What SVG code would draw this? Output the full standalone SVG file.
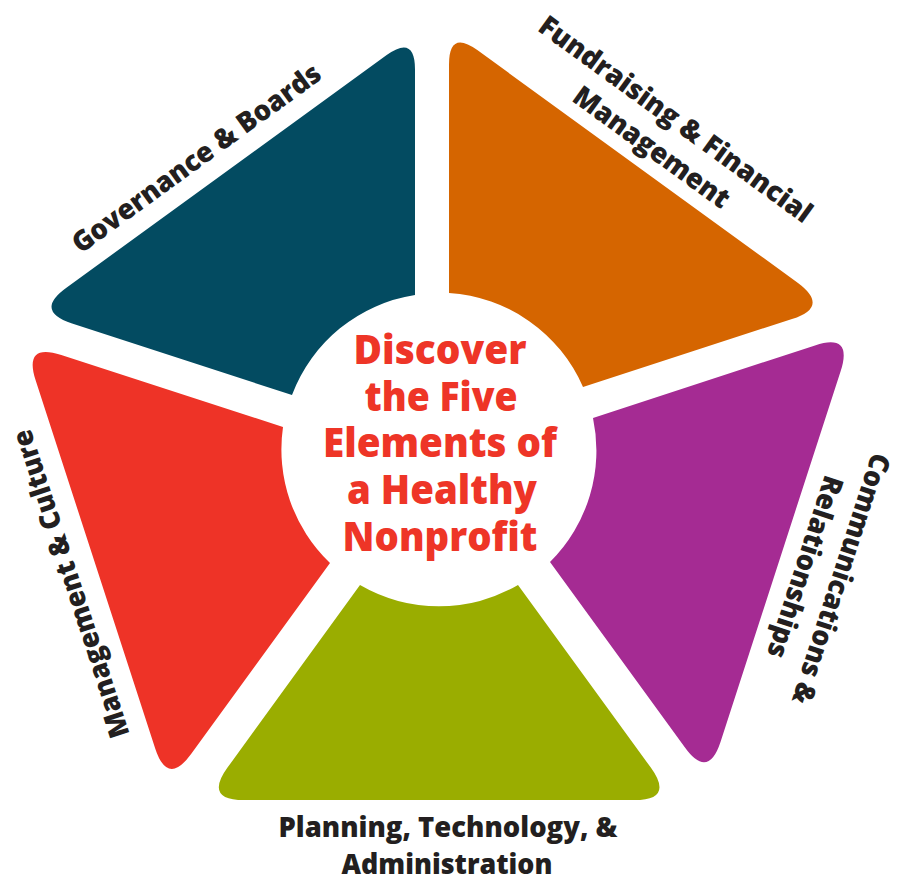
<svg xmlns="http://www.w3.org/2000/svg" width="897" height="880" viewBox="0 0 897 880">
  <style>
    .lbl { font-family: "Open Sans", "Noto Sans", "Liberation Sans", sans-serif; font-weight: 800; font-size: 28px; fill: #231f20; text-anchor: middle; }
    .ctr { font-family: "Open Sans", "Noto Sans", "Liberation Sans", sans-serif; font-weight: 800; font-size: 40px; fill: #ee3527; text-anchor: middle; }
  </style>
  <rect width="897" height="880" fill="#ffffff"/>

  <g id="governance">
    <path fill="#034b61" d="M 415,295 L 415,69.5 Q 415,34.5 386.7,55.1 L 66.4,287.7 Q 34,311 72.1,323.6 L 292,395 A 157,157 0 0 1 415,295 Z"/>
    <text class="lbl" transform="translate(202,166) rotate(-36)" textLength="300" lengthAdjust="spacingAndGlyphs">Governance &amp; Boards</text>
  </g>

  <g id="fundraising">
    <path fill="#d56500" d="M 449,293 L 449,64.5 Q 449,29.5 477.3,50.1 L 798,283 Q 830,307 792,319 L 583,387 A 157,157 0 0 0 449,293 Z"/>
    <text class="lbl" transform="translate(670,127) rotate(36)" textLength="330" lengthAdjust="spacingAndGlyphs">Fundraising &amp; Financial</text>
    <text class="lbl" transform="translate(646,155) rotate(36)" textLength="186" lengthAdjust="spacingAndGlyphs">Management</text>
  </g>

  <g id="communications">
    <path fill="#a52b93" d="M 593,418 L 815,345.4 Q 853,333 840.7,371 L 720.5,742 Q 708,780 684.6,747.1 L 550,562 A 157,157 0 0 0 593,418 Z"/>
    <text class="lbl" transform="translate(832,576) rotate(108)" textLength="262" lengthAdjust="spacingAndGlyphs">Communications &amp;</text>
    <text class="lbl" transform="translate(796,564) rotate(108)" textLength="190" lengthAdjust="spacingAndGlyphs">Relationships</text>
  </g>

  <g id="planning">
    <path fill="#9aad00" d="M 360,585 A 157,157 0 0 0 518,585 L 650.8,767.6 Q 674.3,800 634.3,800 L 244,800 Q 204,800 227.5,767.6 Z"/>
    <text class="lbl" x="448" y="837" textLength="339" lengthAdjust="spacingAndGlyphs">Planning, Technology, &amp;</text>
    <text class="lbl" x="447" y="874" textLength="211" lengthAdjust="spacingAndGlyphs">Administration</text>
  </g>

  <g id="management">
    <path fill="#ee3327" d="M 283,427 L 61.3,355 Q 23.3,342.6 35.7,380.6 L 155.2,748.4 Q 167.6,786.4 191.1,754 L 330,563 A 157,157 0 0 1 283,427 Z"/>
    <text class="lbl" transform="translate(80,581) rotate(-108)" textLength="322" lengthAdjust="spacingAndGlyphs">Management &amp; Culture</text>
  </g>

  <g id="center">
    <text class="ctr" x="440" y="364" textLength="173" lengthAdjust="spacingAndGlyphs">Discover</text>
    <text class="ctr" x="441" y="411" textLength="153" lengthAdjust="spacingAndGlyphs">the Five</text>
    <text class="ctr" x="440" y="457" textLength="234" lengthAdjust="spacingAndGlyphs">Elements of</text>
    <text class="ctr" x="442" y="504" textLength="190" lengthAdjust="spacingAndGlyphs">a Healthy</text>
    <text class="ctr" x="440" y="551" textLength="195" lengthAdjust="spacingAndGlyphs">Nonprofit</text>
  </g>
</svg>
